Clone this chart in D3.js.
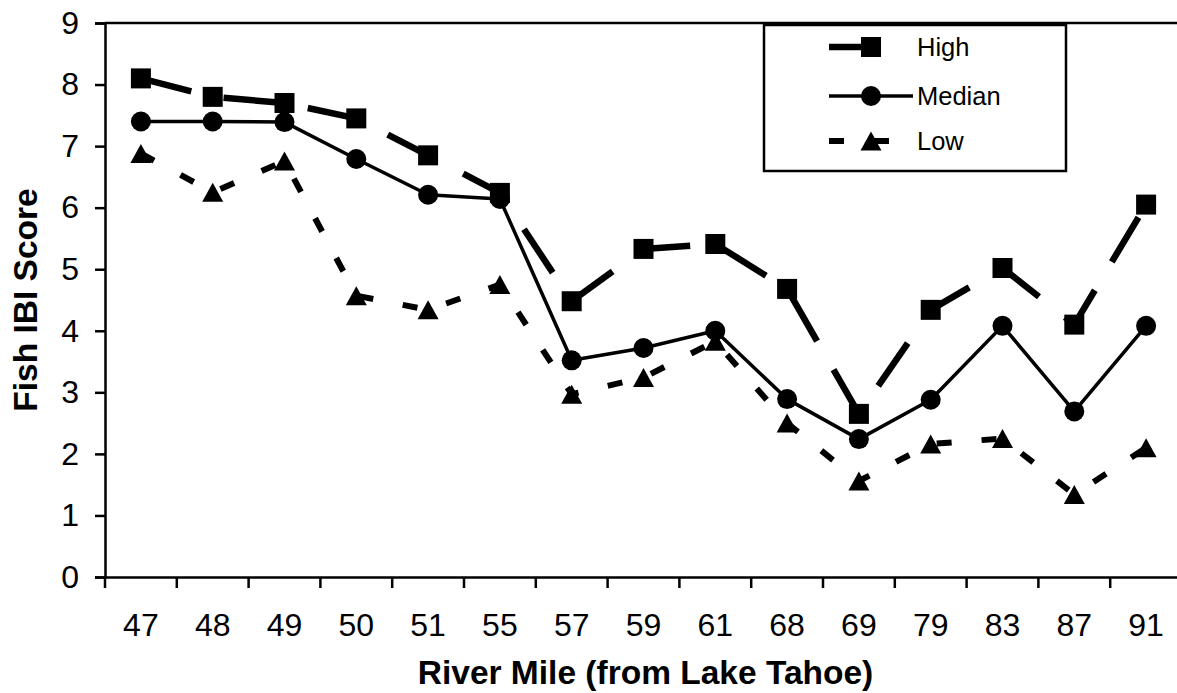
<!DOCTYPE html>
<html>
<head>
<meta charset="utf-8">
<script src="https://cdn.jsdelivr.net/npm/d3@7"></script>
<style>
  body { margin: 0; background: #fff; }
  svg { display: block; font-family: "Liberation Sans", Arial, sans-serif; }
</style>
</head>
<body>
<div id="chart"></div>
<script>
// river miles (categories) and the three IBI series
const miles = ["47", "48", "49", "50", "51", "55", "57", "59", "61", "68", "69", "79", "83", "87", "91"];
const high = [8.1, 7.8, 7.7, 7.45, 6.85, 6.24, 4.48, 5.33, 5.41, 4.68, 2.65, 4.34, 5.02, 4.1, 6.05];
const median = [7.4, 7.4, 7.39, 6.79, 6.21, 6.14, 3.52, 3.72, 4.0, 2.89, 2.24, 2.88, 4.08, 2.69, 4.08];
const low = [6.88, 6.25, 6.76, 4.57, 4.34, 4.75, 2.97, 3.24, 3.83, 2.5, 1.56, 2.16, 2.25, 1.34, 2.1];
const yTicks = [0, 1, 2, 3, 4, 5, 6, 7, 8, 9];

const width = 1177, height = 693;
const plotLeft = 105, plotRight = 1182, plotTop = 23, plotBottom = 577;

const series = [
  {name: "High", values: high, width: 6.5, dash: "52,33", marker: "square"},
  {name: "Median", values: median, width: 3.5, dash: null, marker: "circle"},
  {name: "Low", values: low, width: 6, dash: "15,30", marker: "triangle"}
];

const svg = d3.select("#chart").append("svg")
    .attr("width", width)
    .attr("height", height);

const x = d3.scaleBand().domain(miles).range([plotLeft, plotRight]);
const y = d3.scaleLinear().domain([0, 9]).range([plotBottom, plotTop]);
const cx = m => x(m) + x.bandwidth() / 2;

// top frame line
svg.append("line")
    .attr("x1", plotLeft).attr("x2", plotRight)
    .attr("y1", y(9)).attr("y2", y(9))
    .attr("stroke", "#000").attr("stroke-width", 2.5);

// y axis
const yAxis = svg.append("g")
    .attr("transform", `translate(${plotLeft},0)`)
    .call(d3.axisLeft(y).tickValues(yTicks).tickSize(10).tickPadding(16).tickFormat(d3.format("d")));
yAxis.select(".domain").attr("stroke-width", 2.5);
yAxis.selectAll(".tick line").attr("stroke-width", 2.5);
yAxis.selectAll("text").style("font-size", "32px").attr("fill", "#000");

// x axis - ticks sit on the category boundaries
const xAxis = svg.append("g")
    .attr("transform", `translate(0,${plotBottom})`)
    .call(d3.axisBottom(x).tickSize(0).tickPadding(36));
xAxis.select(".domain").attr("stroke-width", 2.5);
xAxis.selectAll("text").style("font-size", "32px").attr("fill", "#000");
xAxis.selectAll(".bound")
    .data(miles)
    .join("line")
    .attr("class", "bound")
    .attr("x1", d => x(d)).attr("x2", d => x(d))
    .attr("y1", 0).attr("y2", 11)
    .attr("stroke", "#000").attr("stroke-width", 2.5);

// axis titles
svg.append("text")
    .attr("x", (plotLeft + plotRight) / 2 + 2)
    .attr("y", 684)
    .attr("text-anchor", "middle")
    .style("font-size", "33.5px").style("font-weight", "bold")
    .text("River Mile (from Lake Tahoe)");

svg.append("text")
    .attr("transform", `translate(37,${(plotTop + plotBottom) / 2}) rotate(-90)`)
    .attr("text-anchor", "middle")
    .style("font-size", "33.5px").style("font-weight", "bold")
    .text("Fish IBI Score");

const symbols = {
  square: d3.symbol(d3.symbolSquare, 400),
  circle: d3.symbol(d3.symbolCircle, 314)
};

function drawMarker(g, type, px, py) {
  if (type === "triangle") {
    g.append("path")
        .attr("d", `M${px - 10.5},${py + 9.5}L${px + 10.5},${py + 9.5}L${px},${py - 9.5}Z`)
        .attr("fill", "#000");
  } else {
    g.append("path")
        .attr("transform", `translate(${px},${py})`)
        .attr("d", symbols[type]())
        .attr("fill", "#000");
  }
}

const line = d3.line().x(d => cx(d.m)).y(d => y(d.v));

for (const s of series) {
  const pts = miles.map((m, i) => ({m: m, v: s.values[i]}));
  const g = svg.append("g");
  g.append("path")
      .datum(pts)
      .attr("d", line)
      .attr("fill", "none")
      .attr("stroke", "#000")
      .attr("stroke-width", s.width)
      .attr("stroke-dasharray", s.dash)
      .attr("stroke-linejoin", "round");
  pts.forEach(p => drawMarker(g, s.marker, cx(p.m), y(p.v)));
}

// legend
const legend = svg.append("g");
legend.append("rect")
    .attr("x", 764).attr("y", 25)
    .attr("width", 302).attr("height", 146)
    .attr("fill", "#fff").attr("stroke", "#000").attr("stroke-width", 2.5);

const rowY = [47, 96, 141];
series.forEach((s, i) => {
  const ly = rowY[i];
  legend.append("line")
      .attr("x1", 829).attr("x2", 913)
      .attr("y1", ly).attr("y2", ly)
      .attr("stroke", "#000")
      .attr("stroke-width", s.width)
      .attr("stroke-dasharray", s.dash);
  drawMarker(legend, s.marker, 871, ly);
  legend.append("text")
      .attr("x", 917).attr("y", ly)
      .attr("dy", "0.35em")
      .style("font-size", "25.5px")
      .text(s.name);
});
</script>
</body>
</html>
